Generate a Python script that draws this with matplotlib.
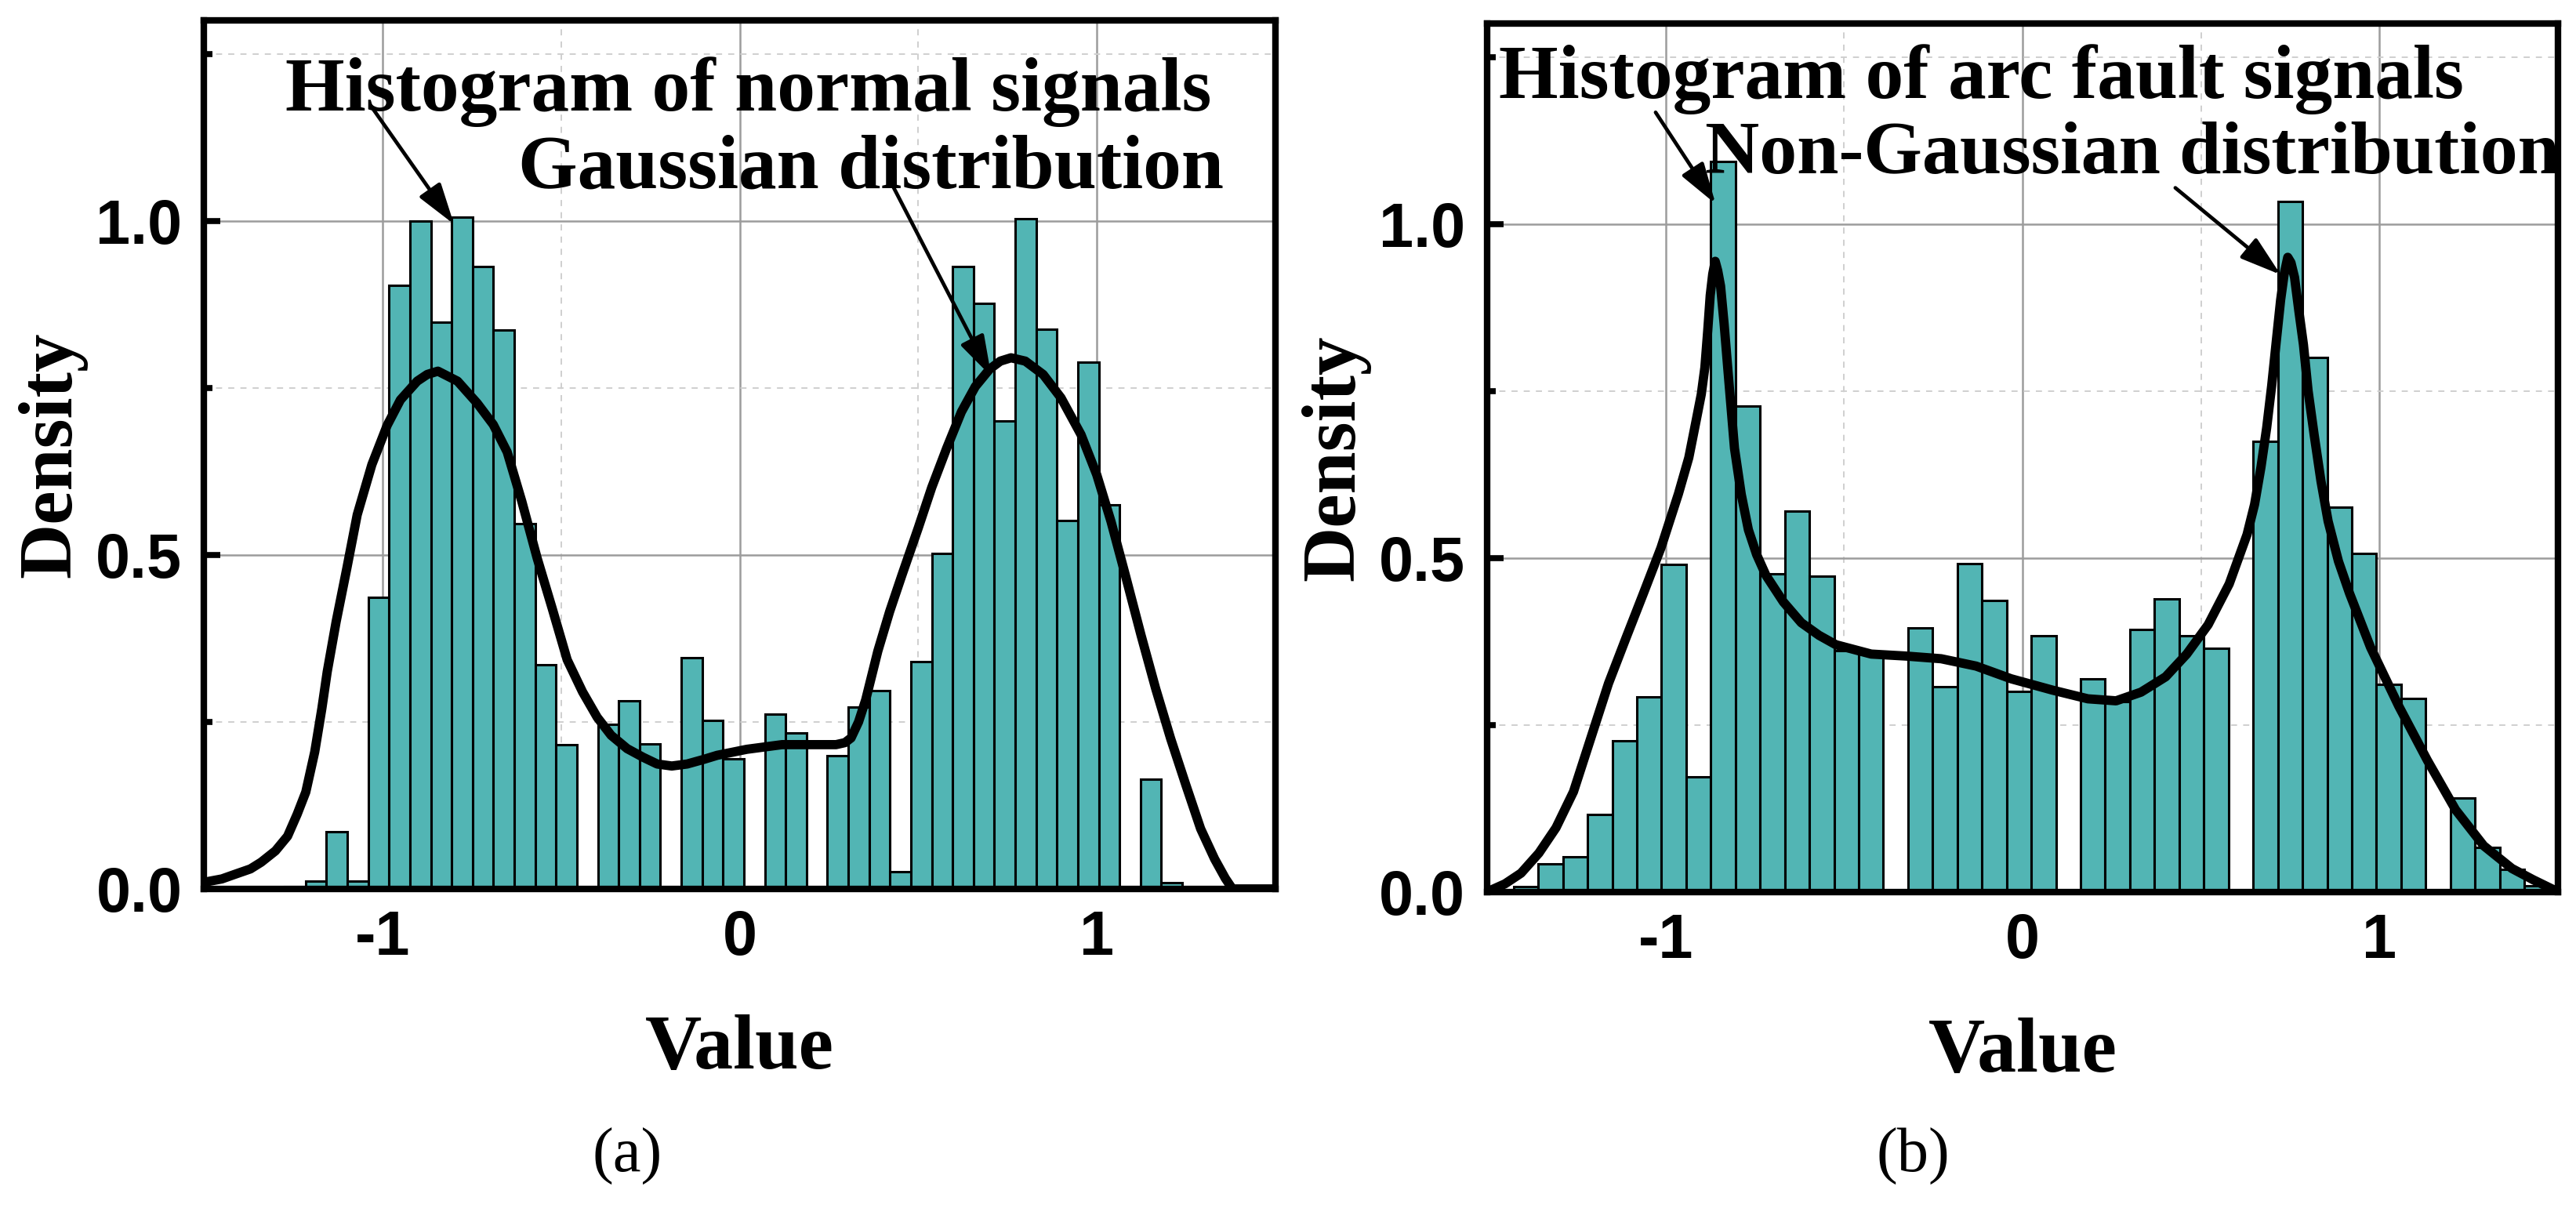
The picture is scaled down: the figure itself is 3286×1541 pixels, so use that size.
import numpy as np
import matplotlib
matplotlib.use("Agg")
import matplotlib.pyplot as plt
from matplotlib.ticker import FixedLocator, FixedFormatter, MultipleLocator

# ---------------- data ----------------
normal_bin_start = -1.3325
normal_bin_width = 0.05845
normal_density = [0.002, 0.004, 0.012, 0.086, 0.012, 0.436, 0.903, 1.000, 0.848, 1.005,
                  0.932, 0.836, 0.547, 0.335, 0.216, 0.0, 0.246, 0.282, 0.217, 0.0,
                  0.346, 0.252, 0.195, 0.0, 0.262, 0.234, 0.0, 0.199, 0.272, 0.297,
                  0.026, 0.340, 0.502, 0.932, 0.877, 0.700, 1.003, 0.838, 0.551, 0.788,
                  0.575, 0.0, 0.164, 0.009]

normal_curve_x = [-1.50, -1.45, -1.413, -1.37, -1.34, -1.30, -1.266, -1.239, -1.215, -1.19,
                  -1.17, -1.155, -1.13, -1.10, -1.071, -1.03, -0.987, -0.95, -0.903, -0.875,
                  -0.845, -0.79, -0.735, -0.69, -0.651, -0.61, -0.567, -0.525, -0.483, -0.44,
                  -0.399, -0.36, -0.315, -0.27, -0.231, -0.19, -0.147, -0.10, -0.063, 0.02,
                  0.119, 0.203, 0.27, 0.295, 0.312, 0.333, 0.353, 0.387, 0.42, 0.454,
                  0.50, 0.538, 0.58, 0.621, 0.66, 0.70, 0.73, 0.76, 0.80, 0.85,
                  0.90, 0.956, 1.00, 1.04, 1.08, 1.124, 1.165, 1.207, 1.25, 1.291,
                  1.33, 1.36, 1.38, 1.50]
normal_curve_y = [0.010, 0.015, 0.022, 0.030, 0.040, 0.057, 0.079, 0.112, 0.145, 0.205,
                  0.270, 0.325, 0.400, 0.480, 0.560, 0.635, 0.694, 0.732, 0.760, 0.770,
                  0.775, 0.760, 0.727, 0.695, 0.654, 0.580, 0.495, 0.420, 0.343, 0.295,
                  0.257, 0.230, 0.210, 0.197, 0.187, 0.184, 0.187, 0.194, 0.200, 0.209,
                  0.216, 0.216, 0.216, 0.219, 0.226, 0.250, 0.283, 0.356, 0.415, 0.469,
                  0.540, 0.601, 0.660, 0.714, 0.752, 0.778, 0.790, 0.795, 0.790, 0.770,
                  0.735, 0.680, 0.620, 0.550, 0.470, 0.380, 0.300, 0.225, 0.155, 0.090,
                  0.045, 0.016, 0.0, 0.0]

arc_bin_start = -1.426
arc_bin_width = 0.06907
arc_density = [0.008, 0.042, 0.052, 0.116, 0.226, 0.292, 0.490, 0.172, 1.093, 0.727,
               0.476, 0.570, 0.473, 0.361, 0.359, 0.0, 0.395, 0.307, 0.491, 0.436,
               0.300, 0.383, 0.0, 0.319, 0.285, 0.393, 0.439, 0.383, 0.365, 0.002,
               0.675, 1.034, 0.800, 0.576, 0.507, 0.311, 0.289, 0.0, 0.140, 0.066,
               0.034, 0.009]

arc_curve_x = [-1.50, -1.45, -1.405, -1.355, -1.307, -1.258, -1.209, -1.16, -1.111, -1.062,
               -1.013, -0.964, -0.935, -0.915, -0.90, -0.89, -0.882, -0.875, -0.868, -0.861,
               -0.854, -0.846, -0.836, -0.826, -0.807, -0.788, -0.768, -0.745, -0.719, -0.67,
               -0.62, -0.57, -0.523, -0.424, -0.326, -0.228, -0.13, -0.032, 0.084, 0.183,
               0.262, 0.332, 0.401, 0.46, 0.52, 0.579, 0.629, 0.650, 0.668, 0.684,
               0.698, 0.711, 0.723, 0.733, 0.743, 0.752, 0.762, 0.774, 0.787, 0.80,
               0.817, 0.836, 0.856, 0.885, 0.916, 0.975, 1.054, 1.134, 1.213, 1.292,
               1.371, 1.431, 1.50]
arc_curve_y = [0.0, 0.012, 0.028, 0.058, 0.096, 0.150, 0.231, 0.312, 0.380, 0.447,
               0.515, 0.596, 0.650, 0.704, 0.745, 0.785, 0.840, 0.893, 0.925, 0.944,
               0.930, 0.907, 0.850, 0.785, 0.664, 0.595, 0.542, 0.505, 0.474, 0.434,
               0.403, 0.384, 0.370, 0.356, 0.353, 0.349, 0.338, 0.319, 0.302, 0.289,
               0.286, 0.299, 0.322, 0.356, 0.400, 0.461, 0.535, 0.580, 0.636, 0.695,
               0.758, 0.825, 0.886, 0.925, 0.950, 0.942, 0.920, 0.870, 0.819, 0.750,
               0.684, 0.615, 0.555, 0.495, 0.447, 0.366, 0.278, 0.197, 0.123, 0.069,
               0.035, 0.018, 0.0]

x_ticks = [-1, 0, 1]
x_tick_labels = ["-1", "0", "1"]
y_ticks = [0.0, 0.5, 1.0]
y_tick_labels = ["0.0", "0.5", "1.0"]

panels = [
    dict(bin_start=normal_bin_start, bin_width=normal_bin_width, density=normal_density,
         cx=normal_curve_x, cy=normal_curve_y,
         texts=[("Histogram of normal signals", -1.272, 1.165),
                ("Gaussian distribution", -0.621, 1.050)],
         arrows=[((-1.034, 1.173), (-0.800, 0.995)),
                 ((0.431, 1.050), (0.705, 0.767))],
         rect=[0.07920, 0.26412, 0.41586, 0.71901],
         caption="(a)", cap_x=800 / 3286),
    dict(bin_start=arc_bin_start, bin_width=arc_bin_width, density=arc_density,
         cx=arc_curve_x, cy=arc_curve_y,
         texts=[("Histogram of arc fault signals", -1.467, 1.189),
                ("Non-Gaussian distribution", -0.890, 1.076)],
         arrows=[((-1.028, 1.167), (-0.860, 1.030)),
                 ((0.428, 1.054), (0.723, 0.924))],
         rect=[0.57730, 0.26171, 0.41570, 0.71882],
         caption="(b)", cap_x=2440 / 3286),
]

# ---------------- style ----------------
plt.rcParams["font.family"] = ["Liberation Sans", "DejaVu Sans"]
plt.rcParams["font.weight"] = "bold"
plt.rcParams["axes.unicode_minus"] = False

SERIF = ["Liberation Serif", "DejaVu Serif"]
BAR_COLOR = "#52B5B4"

fig = plt.figure(figsize=(32.86, 15.41), dpi=100)
fig.patch.set_facecolor("white")

for i, p in enumerate(panels):
    ax = fig.add_axes(p["rect"])
    dens = np.asarray(p["density"])
    edges = p["bin_start"] + p["bin_width"] * np.arange(len(dens))
    ax.bar(edges, dens, width=p["bin_width"], align="edge", color=BAR_COLOR,
           edgecolor="black", linewidth=2.2, zorder=2)
    ax.plot(p["cx"], p["cy"], color="black", lw=8.5, solid_joinstyle="round",
            solid_capstyle="round", zorder=3)

    ax.set_xlim(-1.5, 1.5)
    ax.set_ylim(0, 1.3)
    ax.xaxis.set_major_locator(FixedLocator(x_ticks))
    ax.xaxis.set_major_formatter(FixedFormatter(x_tick_labels))
    ax.xaxis.set_minor_locator(MultipleLocator(0.5))
    ax.yaxis.set_major_locator(FixedLocator(y_ticks))
    ax.yaxis.set_major_formatter(FixedFormatter(y_tick_labels))
    ax.yaxis.set_minor_locator(MultipleLocator(0.25))

    ax.set_axisbelow(True)
    ax.grid(which="major", color="#9c9c9c", lw=1.8, ls="-")
    ax.grid(which="minor", color="#cfcfcf", lw=1.4, ls=(0, (4, 4)))

    ax.tick_params(which="major", direction="in", length=15, width=5.5,
                   labelsize=57, top=False, right=False)
    ax.tick_params(which="minor", direction="in", length=8, width=5.5,
                   top=False, right=False)
    ax.tick_params(axis="x", which="major", pad=19)
    ax.tick_params(axis="y", which="major", pad=20)
    for s in ax.spines.values():
        s.set_linewidth(6)
        s.set_zorder(4)

    ax.set_xlabel("Value", family=SERIF, fontweight="bold", fontsize=72)
    ax.xaxis.set_label_coords(0.5, -0.1444)
    ax.set_ylabel("Density", family=SERIF, fontweight="bold", fontsize=70)
    ax.yaxis.set_label_coords(-0.1092, 0.5)

    for j, (txt, tx, ty) in enumerate(p["texts"]):
        fs = 69 if (i == 1 and j == 1) else 70
        ax.text(tx, ty, txt, family=SERIF, fontweight="bold", fontsize=fs,
                ha="left", va="baseline", zorder=6, clip_on=False)
    for (sx, sy), (ex, ey) in p["arrows"]:
        ax.annotate("", xy=(ex, ey), xytext=(sx, sy), xycoords="data",
                    arrowprops=dict(arrowstyle="-|>,head_length=0.8,head_width=0.25",
                                    mutation_scale=40, lw=3.4, color="black",
                                    shrinkA=0, shrinkB=0),
                    zorder=5)

    fig.text(p["cap_x"], 1 - 1475 / 1541, p["caption"], family=SERIF,
             fontweight="normal", fontsize=58, ha="center", va="center")

fig.savefig("out.png", dpi=100, facecolor="white")
